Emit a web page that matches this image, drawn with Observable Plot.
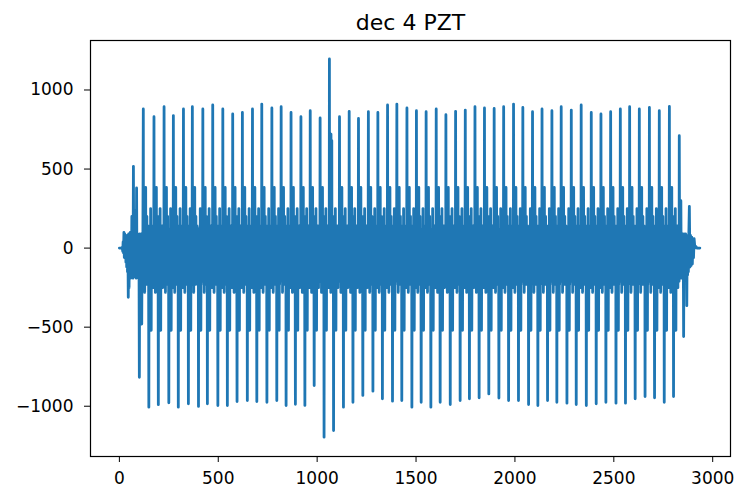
<!DOCTYPE html>
<html>
<head>
<meta charset="utf-8">
<script src="https://cdn.jsdelivr.net/npm/d3@7"></script>
<script src="https://cdn.jsdelivr.net/npm/@observablehq/plot@0.6"></script>
<style>
  html, body { margin: 0; padding: 0; background: white; }
</style>
</head>
<body>
<div id="chart"></div>
<script>
const title = "dec 4 PZT";
const xTicks = [0, 500, 1000, 1500, 2000, 2500, 3000];
const yTicks = [-1000, -500, 0, 500, 1000];

// lead-in samples (before the first full beat)
const leadX = [0, 8, 14, 17, 19, 21, 23, 25, 27, 29, 31, 33, 35, 37, 39, 41, 43, 45, 47, 49, 51, 53, 55, 57, 59, 61, 63, 65, 67, 69, 71, 73, 75, 77, 79, 81, 83, 85, 87, 89, 91, 93, 95, 97, 99, 101, 103, 105, 107, 109, 111, 113, 115, 117, 119];
const leadY = [0, 0, 5, -20, 40, -30, 100, -60, 90, -40, 70, -90, 60, -120, 80, -150, 40, -311, 90, -250, 60, -180, 100, -190, 80, -170, 200, -180, 90, -190, 517, -170, 240, -160, 90, -180, 80, -190, 380, -170, 90, -180, 80, -190, 60, -817, 90, -170, 70, -180, 90, -480, 80, -190, 90];

// positive peaks of each beat
const topX = [121, 175, 226, 273, 324, 369, 422, 472, 523, 573, 622, 673, 720, 771, 818, 868, 918, 965, 1015, 1062, 1113, 1162, 1209, 1259, 1307, 1356, 1403, 1454, 1502, 1551, 1602, 1651, 1700, 1749, 1798, 1846, 1895, 1943, 1993, 2040, 2089, 2137, 2187, 2234, 2285, 2335, 2386, 2435, 2484, 2533, 2580, 2629, 2680, 2730, 2781, 2831];
const topY = [880, 831, 894, 838, 880, 894, 880, 905, 880, 848, 858, 880, 911, 886, 894, 858, 831, 869, 823, 1196, 831, 865, 820, 863, 858, 905, 911, 886, 869, 863, 880, 844, 865, 873, 894, 886, 883, 894, 911, 890, 863, 880, 869, 894, 873, 905, 858, 848, 863, 880, 894, 880, 890, 869, 896, 711];

// negative peaks of each beat
const botX = [149, 197, 250, 298, 349, 400, 445, 498, 546, 595, 647, 695, 746, 796, 843, 890, 938, 985, 1035, 1083, 1133, 1181, 1231, 1282, 1330, 1381, 1428, 1479, 1526, 1575, 1622, 1673, 1723, 1770, 1819, 1868, 1919, 1968, 2018, 2069, 2116, 2165, 2212, 2263, 2310, 2361, 2411, 2460, 2511, 2559, 2608, 2658, 2706, 2755, 2802];
const botY = [-1006, -990, -978, -1006, -985, -1001, -985, -996, -996, -970, -964, -970, -975, -964, -996, -988, -995, -869, -1196, -1154, -1006, -975, -932, -905, -953, -968, -964, -1006, -975, -1006, -975, -989, -964, -953, -947, -922, -948, -964, -964, -989, -996, -964, -975, -981, -989, -996, -985, -975, -981, -981, -953, -939, -947, -975, -939];

// samples following a positive peak, and following a negative peak
const afterTop = [-170, 110, -210, 90, -160, 60, -280, 90, -170, 130, -190, 384, -200, 80, -170, 120, -230, 200, -170, 60, -210, 90, -190, 140, -160, 80, -220, 90];
const afterBot = [120, -180, 70, -220, -330, -170, 80, -200, 250, -170, 60, -520, 80, -230, 110, -170, 70, -190, 140, -160, 90, -250, 70, -190, 120, -170, 80, -210, 60, -190];

// a few individual samples near the large central beat
const extraX = [1070, 1072, 1074];
const extraY = [720, 620, 680];

// tail samples (after the last full beat)
const tailX = [2833, 2835, 2837, 2839, 2841, 2843, 2845, 2847, 2849, 2851, 2853, 2855, 2857, 2859, 2861, 2863, 2865, 2867, 2869, 2871, 2873, 2875, 2877, 2879, 2882, 2885, 2888, 2891, 2894, 2897, 2900, 2903, 2906, 2910, 2915, 2920, 2925, 2930, 2935];
const tailY = [-180, 90, -190, 300, -180, 80, -190, 90, -170, 80, -559, 90, -180, 80, -190, 90, -170, 80, -364, 70, -170, 80, -150, 70, 264, -120, 80, -110, 70, -100, 40, -60, 60, 0, 10, 0, 0, 0, 0];

// assemble the sample table
const pts = [];
leadX.forEach((x, i) => pts.push({x, y: leadY[i]}));
for (let i = 0; i < topX.length - 1; i++) {
  const x0 = topX[i], x1 = topX[i + 1], xb = botX[i];
  pts.push({x: x0, y: topY[i]});
  for (let x = x0 + 1; x < xb; x++) pts.push({x, y: afterTop[(x - x0 - 1) % afterTop.length]});
  pts.push({x: xb, y: botY[i]});
  for (let x = xb + 1; x < x1; x++) pts.push({x, y: afterBot[(x - xb - 1) % afterBot.length]});
}
pts.push({x: topX[topX.length - 1], y: topY[topY.length - 1]});
tailX.forEach((x, i) => pts.push({x, y: tailY[i]}));
extraX.forEach((x, i) => { const p = pts.find(d => d.x === x); if (p) p.y = extraY[i]; });

const fmt = d => d < 0 ? "\u2212" + Math.abs(d) : String(d);

const chart = Plot.plot({
  width: 735,
  height: 491,
  marginTop: 40,
  marginBottom: 35,
  marginLeft: 90,
  marginRight: 5,
  style: {fontFamily: "DejaVu Sans", fontSize: "17px", color: "black", background: "white"},
  x: {domain: [-146, 3090], ticks: xTicks, tickFormat: fmt, tickSize: 6, tickPadding: 9, label: null},
  y: {domain: [-1318, 1313], ticks: yTicks, tickFormat: fmt, tickSize: 6, tickPadding: 11, label: null},
  marks: [
    Plot.line(pts, {x: "x", y: "y", stroke: "#1f77b4", strokeWidth: 2.8}),
    Plot.frame({stroke: "black", strokeWidth: 1.2}),
    Plot.text([title], {frameAnchor: "top", lineAnchor: "middle", dy: -18, fontSize: 22, text: d => d, fill: "black"})
  ]
});
document.getElementById("chart").appendChild(chart);
</script>
</body>
</html>
